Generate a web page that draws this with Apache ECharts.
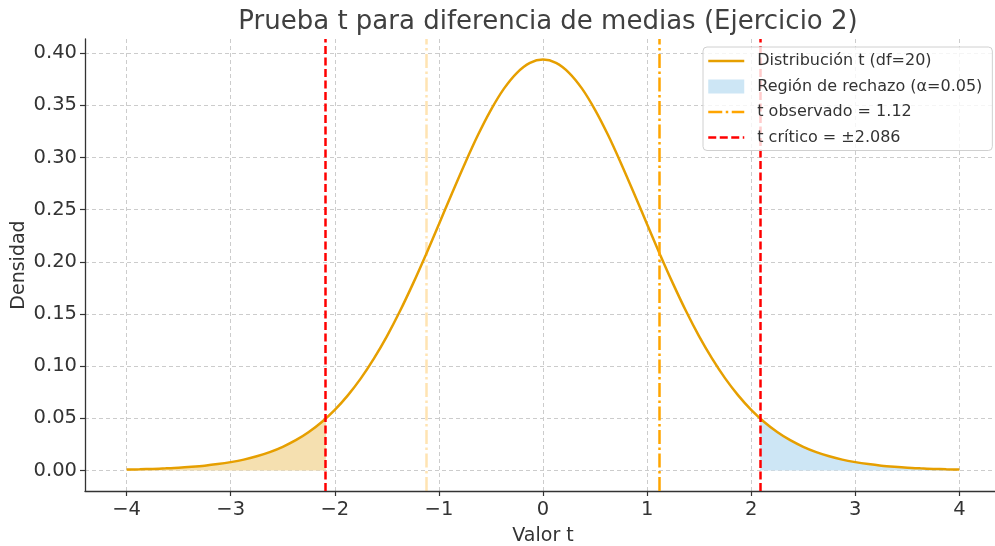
<!DOCTYPE html>
<html>
<head>
<meta charset="utf-8">
<script src="https://cdn.jsdelivr.net/npm/echarts@6/dist/echarts.min.js"></script>
<style>html,body{margin:0;padding:0;background:#fff}#c{width:995px;height:546px}</style>
</head>
<body>
<div id="c"></div>
<script>
// Values
var tValues = [-4, -3.875, -3.75, -3.625, -3.5, -3.375, -3.25, -3.125, -3, -2.875, -2.75, -2.625, -2.5, -2.375, -2.25, -2.125,
               -2, -1.875, -1.75, -1.625, -1.5, -1.375, -1.25, -1.125, -1, -0.875, -0.75, -0.625, -0.5, -0.375, -0.25, -0.125, 0,
               0.125, 0.25, 0.375, 0.5, 0.625, 0.75, 0.875, 1, 1.125, 1.25, 1.375, 1.5, 1.625, 1.75, 1.875,
               2, 2.125, 2.25, 2.375, 2.5, 2.625, 2.75, 2.875, 3, 3.125, 3.25, 3.375, 3.5, 3.625, 3.75, 3.875, 4];
var densityValues = [0.0008, 0.0011, 0.0015, 0.0020, 0.0026, 0.0035, 0.0046, 0.0061, 0.0080, 0.0104, 0.0136, 0.0176, 0.0227, 0.0290, 0.0369, 0.0465,
                     0.0581, 0.0720, 0.0883, 0.1072, 0.1286, 0.1526, 0.1789, 0.2069, 0.2361, 0.2656, 0.2944, 0.3216, 0.3458, 0.3661, 0.3813, 0.3908, 0.3940,
                     0.3908, 0.3813, 0.3661, 0.3458, 0.3216, 0.2944, 0.2656, 0.2361, 0.2069, 0.1789, 0.1526, 0.1286, 0.1072, 0.0883, 0.0720,
                     0.0581, 0.0465, 0.0369, 0.0290, 0.0227, 0.0176, 0.0136, 0.0104, 0.0080, 0.0061, 0.0046, 0.0035, 0.0026, 0.0020, 0.0015, 0.0011, 0.0008];
var tCritical = 2.086;
var densityAtCritical = 0.0499;
var tObserved = 1.12;
var xTicks = [-4, -3, -2, -1, 0, 1, 2, 3, 4];
var yTicks = [0, 0.05, 0.10, 0.15, 0.20, 0.25, 0.30, 0.35, 0.40];

var curve = tValues.map(function (t, i) { return [t, densityValues[i]]; });
var leftFill = curve.filter(function (p) { return p[0] <= -tCritical; });
leftFill.push([-tCritical, densityAtCritical]);
var rightFill = [[tCritical, densityAtCritical]].concat(curve.filter(function (p) { return p[0] >= tCritical; }));

var FONT = 'DejaVu Sans';
var TXT = '#333333';
var DASHDOT = [14, 3.5, 2.5, 3.5];
var DASHED = [8, 3.5];
var chart = echarts.init(document.getElementById('c'), null, {renderer: 'canvas'});
chart.setOption({
  animation: false,
  backgroundColor: '#ffffff',
  textStyle: {fontFamily: FONT},
  title: {
    text: 'Prueba t para diferencia de medias (Ejercicio 2)',
    left: 543, top: 4, textAlign: 'center',
    textStyle: {fontFamily: FONT, fontSize: 26, fontWeight: 'normal', color: '#404040'}
  },
  grid: {left: 85, right: -6, top: 39, bottom: 55, containLabel: false, outerBoundsMode: 'none'},
  xAxis: {
    type: 'value', min: -4.4, max: 4.4,
    name: 'Valor t', nameLocation: 'middle', nameGap: 36, nameMoveOverlap: false,
    nameTextStyle: {fontFamily: FONT, fontSize: 19, color: TXT},
    axisLine: {show: true, onZero: false, lineStyle: {color: '#333', width: 1.3}},
    axisTick: {show: true, length: 5, customValues: xTicks, lineStyle: {color: '#333', width: 1.2}},
    axisLabel: {customValues: xTicks, fontFamily: FONT, fontSize: 19.5, color: TXT, margin: 9,
      formatter: function (v) { return v < 0 ? '\u2212' + Math.abs(v) : String(v); }},
    splitLine: {show: true, lineStyle: {color: '#cccccc', type: [4, 3], width: 1}}
  },
  yAxis: {
    type: 'value', min: -0.0197, max: 0.4137,
    name: 'Densidad', nameLocation: 'middle', nameGap: 56, nameRotate: 90, nameMoveOverlap: false,
    nameTextStyle: {fontFamily: FONT, fontSize: 19, color: TXT},
    axisLine: {show: true, onZero: false, lineStyle: {color: '#333', width: 1.3}},
    axisTick: {show: true, length: 5, customValues: yTicks, lineStyle: {color: '#333', width: 1.2}},
    axisLabel: {customValues: yTicks, fontFamily: FONT, fontSize: 19.5, color: TXT, margin: 8,
      formatter: function (v) { return v.toFixed(2); }},
    splitLine: {show: true, lineStyle: {color: '#cccccc', type: [4, 3], width: 1}}
  },
  legend: {
    orient: 'vertical', left: 703, top: 47, z: 20,
    backgroundColor: 'rgba(255,255,255,0.8)', borderColor: '#d0d0d0', borderWidth: 1, borderRadius: 4,
    padding: [6, 10, 5, 4],
    itemWidth: 36, itemHeight: 14, itemGap: 9.5,
    itemStyle: {opacity: 0},
    textStyle: {fontFamily: FONT, fontSize: 16, color: TXT, padding: [0, 0, 0, 8]},
    data: [
      {name: 'Distribución t (df=20)', lineStyle: {width: 2.5}},
      {name: 'Región de rechazo (α=0.05)', icon: 'rect', itemStyle: {color: '#cde6f5', opacity: 1}},
      {name: 't observado = 1.12', lineStyle: {width: 2.5}},
      {name: 't crítico = ±2.086', lineStyle: {width: 2.5}}
    ]
  },
  series: [
    {
      name: 'leftFill', type: 'line', data: leftFill, symbol: 'none', smooth: 0.3,
      lineStyle: {width: 0}, areaStyle: {color: '#f5e0b0', opacity: 1, origin: 0}, z: 1, silent: true
    },
    {
      name: 'Región de rechazo (α=0.05)', type: 'line', data: rightFill, symbol: 'none', smooth: 0.3,
      lineStyle: {width: 0}, areaStyle: {color: '#cde6f5', opacity: 1, origin: 0}, itemStyle: {color: '#cde6f5'}, z: 1, silent: true
    },
    {
      name: 'Distribución t (df=20)', type: 'line', data: curve, symbol: 'none', smooth: 0.3,
      lineStyle: {color: '#e69f00', width: 2.5}, itemStyle: {color: '#e69f00'}, z: 3
    },
    {
      name: 't observado = 1.12', type: 'line', data: [], symbol: 'none',
      lineStyle: {color: '#ffa500', width: 2.5, type: DASHDOT}, itemStyle: {color: '#ffa500'},
      markLine: {
        symbol: ['none', 'none'], silent: true, label: {show: false},
        data: [
          {xAxis: tObserved, lineStyle: {color: '#ffa500', width: 2.5, type: DASHDOT}},
          {xAxis: -tObserved, lineStyle: {color: '#ffa500', opacity: 0.3, width: 2.5, type: DASHDOT}}
        ]
      }, z: 2
    },
    {
      name: 't crítico = ±2.086', type: 'line', data: [], symbol: 'none',
      lineStyle: {color: '#ff0000', width: 2.5, type: DASHED}, itemStyle: {color: '#ff0000'},
      markLine: {
        symbol: ['none', 'none'], silent: true, label: {show: false},
        lineStyle: {color: '#ff0000', width: 2.5, type: DASHED},
        data: [{xAxis: -tCritical}, {xAxis: tCritical}]
      }, z: 4
    }
  ]
});
</script>
</body>
</html>
